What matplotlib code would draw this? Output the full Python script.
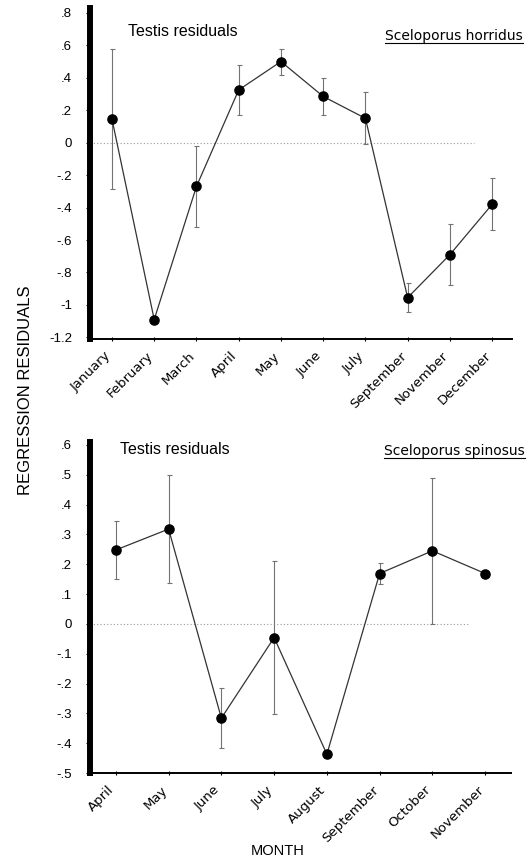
import matplotlib
matplotlib.use("Agg")
import matplotlib.pyplot as plt
from matplotlib.lines import Line2D
import matplotlib.transforms as mtransforms
import numpy as np

# ---- data ----
top_months = ["January", "February", "March", "April", "May", "June", "July",
              "September", "November", "December"]
top_values = [0.145, -1.09, -0.27, 0.325, 0.50, 0.285, 0.15, -0.955, -0.69, -0.38]
top_errors = [0.43, 0.0, 0.25, 0.155, 0.08, 0.115, 0.16, 0.09, 0.19, 0.16]
top_yticks = [0.8, 0.6, 0.4, 0.2, 0.0, -0.2, -0.4, -0.6, -0.8, -1.0, -1.2]
top_yticklabels = [".8", ".6", ".4", ".2", "0", "-.2", "-.4", "-.6", "-.8", "-1", "-1.2"]

bot_months = ["April", "May", "June", "July", "August", "September", "October", "November"]
bot_values = [0.248, 0.318, -0.316, -0.046, -0.437, 0.169, 0.245, 0.169]
bot_errors = [0.098, 0.18, 0.10, 0.256, 0.0, 0.035, 0.245, 0.0]
bot_yticks = [0.6, 0.5, 0.4, 0.3, 0.2, 0.1, 0.0, -0.1, -0.2, -0.3, -0.4, -0.5]
bot_yticklabels = [".6", ".5", ".4", ".3", ".2", ".1", "0", "-.1", "-.2", "-.3", "-.4", "-.5"]

W, H = 530, 861
fig = plt.figure(figsize=(W / 100, H / 100), dpi=100)

NUM_FONT = "Liberation Sans"
LAB_FONT = "DejaVu Sans"


def px_axes(left, top, right, bottom):
    return fig.add_axes([left / W, 1 - bottom / H, (right - left) / W, (bottom - top) / H])


def panel(ax, months, values, errors, yticks, yticklabels, xlim, ylim, zero_frac, species, species_xy, testis_xy):
    x = np.arange(len(months))
    ax.axhline(0, xmin=0, xmax=zero_frac, color="0.6", lw=0.8, ls=(0, (1, 2)), zorder=1)
    ax.errorbar(x, values, yerr=errors, fmt="none", ecolor="0.45", elinewidth=0.8,
                capsize=1.8, capthick=0.8, zorder=2)
    ax.plot(x, values, color="0.2", lw=0.9, marker="o", markersize=6.6,
            markerfacecolor="black", markeredgecolor="black", zorder=3)
    ax.set_xlim(*xlim)
    ax.set_ylim(*ylim)
    for s in ["top", "right"]:
        ax.spines[s].set_visible(False)
    ax.spines["left"].set_linewidth(4.3)
    ax.spines["bottom"].set_linewidth(1.4)
    ax.set_yticks(yticks)
    ax.set_yticklabels(yticklabels, fontfamily=NUM_FONT, fontsize=9.5)
    ax.tick_params(axis="y", length=3, width=0.8, pad=10)
    ax.set_xticks(x)
    ax.set_xticklabels(months, rotation=45, ha="right", va="top", rotation_mode="anchor",
                       fontfamily=LAB_FONT, fontsize=9.5)
    ax.tick_params(axis="x", length=3, width=0.8, direction="inout", pad=6)
    off = mtransforms.ScaledTranslation(-8 / 100, 0, fig.dpi_scale_trans)
    for lab in ax.get_xticklabels():
        lab.set_transform(lab.get_transform() + off)
    ax.text(testis_xy[0] / W, 1 - testis_xy[1] / H, "Testis residuals", transform=fig.transFigure,
            fontfamily=NUM_FONT, fontsize=11.5, ha="left", va="center")
    t = ax.text(species_xy[0] / W, 1 - species_xy[1] / H, species, transform=fig.transFigure,
                fontfamily=LAB_FONT, fontsize=10, ha="right", va="center")
    return t


ax1 = px_axes(90, 8, 512, 339)
t1 = panel(ax1, top_months, top_values, top_errors, top_yticks, top_yticklabels,
           (-0.52, 9.47), (-1.21, 0.83), 0.91, "Sceloporus horridus", (523, 36), (128, 32))

ax2 = px_axes(90, 442, 511, 773)
t2 = panel(ax2, bot_months, bot_values, bot_errors, bot_yticks, bot_yticklabels,
           (-0.49, 7.49), (-0.5, 0.61), 0.90, "Sceloporus spinosus", (525, 451), (120, 449))

fig.text(26 / W, 1 - 390 / H, "REGRESSION RESIDUALS", rotation=90, ha="center", va="center",
         fontfamily=NUM_FONT, fontsize=12)
fig.text(278 / W, 1 - 851 / H, "MONTH", ha="center", va="center",
         fontfamily=NUM_FONT, fontsize=10.5)

# underline species names
fig.canvas.draw()
r = fig.canvas.get_renderer()
for t in (t1, t2):
    bb = t.get_window_extent(renderer=r).transformed(fig.transFigure.inverted())
    y = bb.y0 - 0.0005
    fig.add_artist(Line2D([bb.x0, bb.x1], [y, y], transform=fig.transFigure, color="black", lw=0.8))

fig.savefig("out.png", dpi=100)
